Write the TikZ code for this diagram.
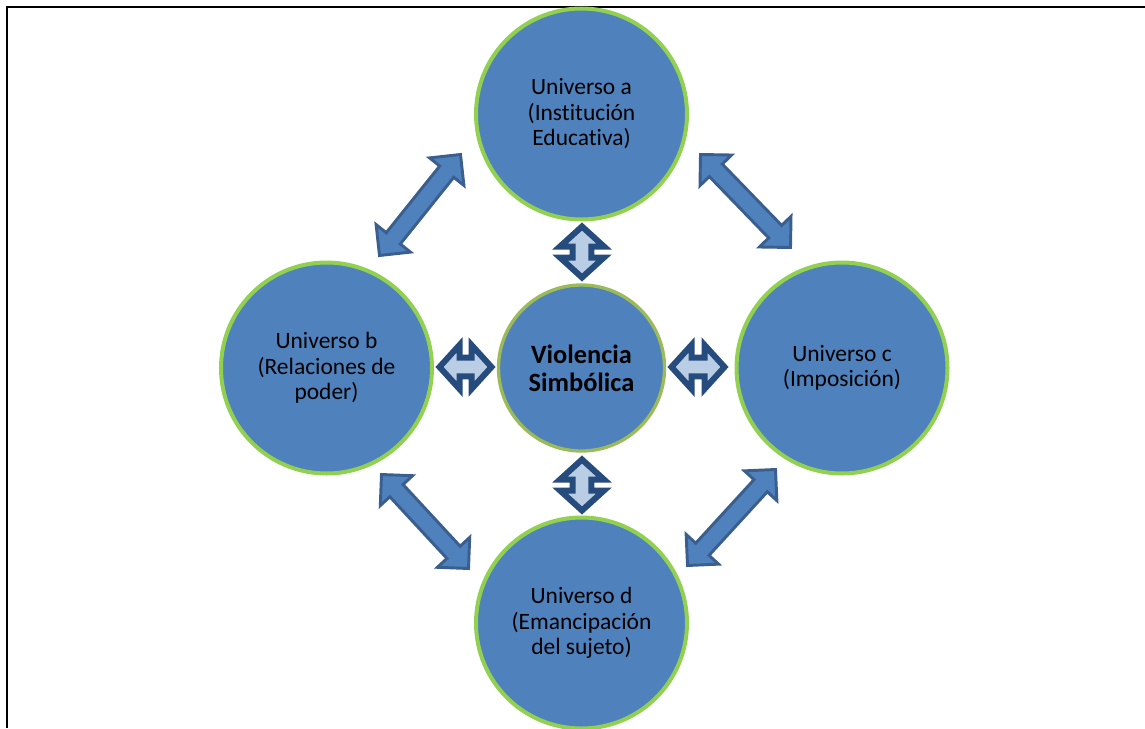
\documentclass[tikz,border=0pt]{standalone}
\usepackage{fontspec}
\setmainfont{Carlito}[Ligatures=NoCommon]
\usetikzlibrary{calc}
\definecolor{cfill}{HTML}{4F81BD}
\definecolor{cring}{HTML}{92D050}
\definecolor{cring2}{HTML}{9BBB59}
\definecolor{aline}{HTML}{3A5F8E}
\definecolor{sline}{HTML}{264B7D}
\definecolor{sfill}{HTML}{B9CDE5}
% block double arrow: style, A, B, shaft half-width, head half-width, head length
\newcommand\blockarrow[6]{%
  \path[#1] (#2) -- ($(#2)!#6!(#3)!#5!90:(#3)$) -- ($(#2)!#6!(#3)!#4!90:(#3)$)
    -- ($(#3)!#6!(#2)!#4!-90:(#2)$) -- ($(#3)!#6!(#2)!#5!-90:(#2)$) -- (#3)
    -- ($(#3)!#6!(#2)!#5!90:(#2)$) -- ($(#3)!#6!(#2)!#4!90:(#2)$)
    -- ($(#2)!#6!(#3)!#4!-90:(#3)$) -- ($(#2)!#6!(#3)!#5!-90:(#3)$) -- cycle;}
\begin{document}
\begin{tikzpicture}[x=0.75pt,y=-0.75pt,
  universe/.style={circle,fill=cfill,draw=cring,line width=3pt,minimum size=158.25pt,
    inner sep=0pt,align=center,font=\fontsize{17.6pt}{19.1pt}\selectfont},
  core/.style={circle,fill=cfill,draw=cring2,line width=2.5pt,minimum size=124.5pt,
    inner sep=0pt,align=center,font=\bfseries\fontsize{19.8pt}{21pt}\selectfont},
  bigarrow/.style={fill=cfill,draw=aline,line width=2.2pt,line join=miter},
  smallarrow/.style={fill=sfill,draw=sline,line width=4.5pt,line join=miter}]
\useasboundingbox (0,0) rectangle (1145,728);
\clip (0,0) rectangle (1145,728);
\draw[line width=1.5pt] (7,728) -- (7,7) -- (1146,7);
% circles
\node[universe] (a) at (581.5,114) {Universo a\\(Institución\\Educativa)};
\node[universe] (b) at (326.5,368) {Universo b\\(Relaciones de\\poder)};
\node[universe] (c) at (842,368) {Universo c\\(Imposición)};
\node[universe] (d) at (581.5,623) {Universo d\\(Emancipación\\del sujeto)};
\node[core] (v) at (581.5,368) {Violencia\\Simbólica};
% arrow end points
\coordinate (ab1) at (379.5,255.5); \coordinate (ab2) at (460.5,154.5);
\coordinate (ac1) at (700.5,154.5); \coordinate (ac2) at (790.5,247.5);
\coordinate (bd1) at (381.5,474.5); \coordinate (bd2) at (468.5,568.5);
\coordinate (cd1) at (775.5,469.5); \coordinate (cd2) at (687.5,565.5);
\coordinate (av1) at (582,226.5); \coordinate (av2) at (582,277.5);
\coordinate (bv1) at (439.5,367); \coordinate (bv2) at (491.5,367);
\coordinate (cv1) at (671.5,367); \coordinate (cv2) at (724.5,367);
\coordinate (dv1) at (582,459.5); \coordinate (dv2) at (582,510.5);
% diagonal arrows
\blockarrow{bigarrow}{ab1}{ab2}{6.75pt}{16.5pt}{16.5pt}
\blockarrow{bigarrow}{ac1}{ac2}{6.75pt}{16.5pt}{16.5pt}
\blockarrow{bigarrow}{bd1}{bd2}{6.75pt}{16.5pt}{16.5pt}
\blockarrow{bigarrow}{cd1}{cd2}{6.75pt}{16.5pt}{16.5pt}
% small arrows
\blockarrow{smallarrow}{av1}{av2}{7pt}{16.5pt}{15pt}
\blockarrow{smallarrow}{bv1}{bv2}{7pt}{16.5pt}{15pt}
\blockarrow{smallarrow}{cv1}{cv2}{7pt}{16.5pt}{15pt}
\blockarrow{smallarrow}{dv1}{dv2}{7pt}{16.5pt}{15pt}
\end{tikzpicture}
\end{document}
